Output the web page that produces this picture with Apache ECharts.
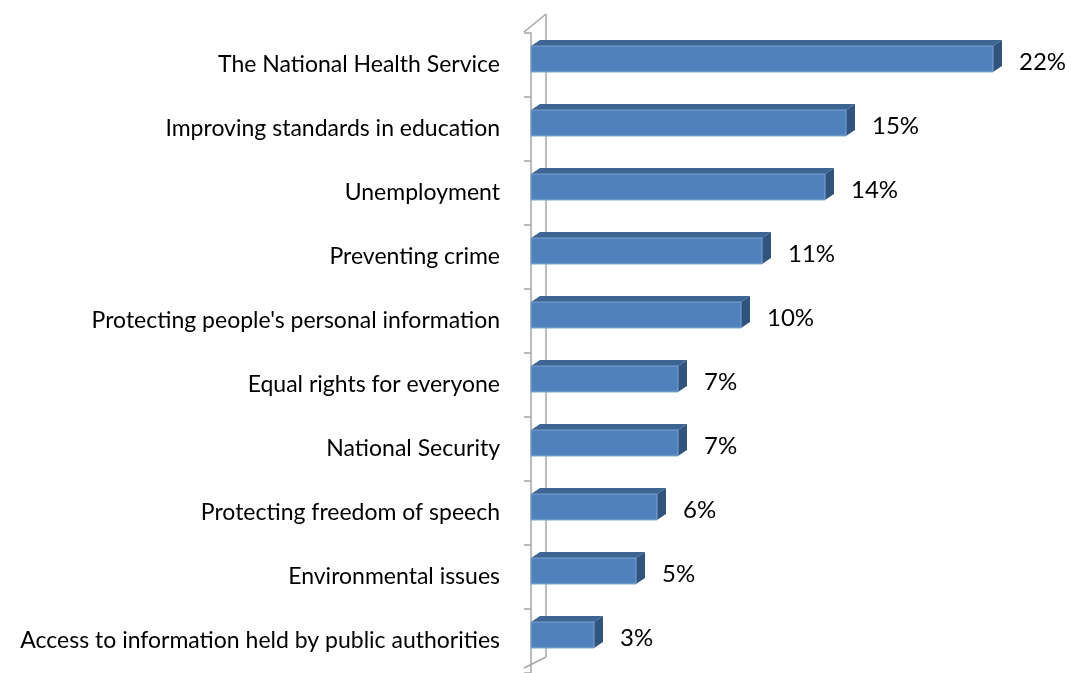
<!DOCTYPE html>
<html>
<head>
<meta charset="utf-8">
<script src="https://cdn.jsdelivr.net/npm/echarts@6/dist/echarts.min.js"></script>
<style>
  html, body { margin: 0; padding: 0; background: #fff; }
  #chart { width: 1071px; height: 673px; }
</style>
</head>
<body>
<div id="chart"></div>
<script>
// Issues ranked by share of respondents (%)
const categories = [
  'The National Health Service',
  'Improving standards in education',
  'Unemployment',
  'Preventing crime',
  "Protecting people's personal information",
  'Equal rights for everyone',
  'National Security',
  'Protecting freedom of speech',
  'Environmental issues',
  'Access to information held by public authorities'
];
const shares = [22, 15, 14, 11, 10, 7, 7, 6, 5, 3];

const FONT = 'Lato, "Open Sans", sans-serif';
const DEPTH_X = 9, DEPTH_Y = 6, LIFT = 6;
const FRONT = '#4F81BD', TOP = '#3C6594', SIDE = '#31547F';

const chart = echarts.init(document.getElementById('chart'), null, { renderer: 'canvas' });

function renderBar(params, api) {
  const v = api.value(0);
  const cat = api.value(1);
  const p0 = api.coord([0, cat]);
  const p1 = api.coord([v, cat]);
  const h = api.size([0, 1])[1] * 0.405;
  const cy = p0[1] - LIFT;
  const x0 = p0[0], x1 = p1[0];
  const yt = cy - h / 2, yb = cy + h / 2;
  return {
    type: 'group',
    children: [
      { type: 'polygon', shape: { points: [[x0, yt], [x0 + DEPTH_X, yt - DEPTH_Y], [x1 + DEPTH_X, yt - DEPTH_Y], [x1, yt]] },
        style: { fill: TOP } },
      { type: 'polygon', shape: { points: [[x1, yt], [x1 + DEPTH_X, yt - DEPTH_Y], [x1 + DEPTH_X, yb - DEPTH_Y], [x1, yb]] },
        style: { fill: SIDE } },
      { type: 'rect', shape: { x: x0, y: yt, width: x1 - x0, height: yb - yt },
        style: { fill: new echarts.graphic.LinearGradient(0, 0, 0, 1, [
          { offset: 0, color: FRONT }, { offset: 0.9, color: FRONT }, { offset: 1, color: '#5B8BC4' }]),
          stroke: '#7FA3D0', lineWidth: 0.6 } },
      { type: 'text', style: { text: v + '%', x: x1 + DEPTH_X + 17, y: cy + 3,
          fill: '#000', font: '24px ' + FONT, textAlign: 'left', textVerticalAlign: 'middle' } }
    ]
  };
}

chart.setOption({
  animation: false,
  grid: { left: 531, top: 33, width: 525, height: 644, containLabel: false },
  xAxis: { type: 'value', min: 0, max: 25, show: false },
  yAxis: {
    type: 'category',
    data: categories,
    inverse: true,
    offset: 7,
    axisLine: { show: true, lineStyle: { color: '#A6A6A6', width: 1.5 } },
    axisTick: { show: true, length: 7, lineStyle: { color: '#A6A6A6', width: 1.5 } },
    axisLabel: { margin: 24, color: '#000', fontFamily: FONT, fontSize: 23, padding: [4, 0, 0, 0] },
    splitLine: { show: false }
  },
  series: [{
    type: 'custom',
    renderItem: renderBar,
    encode: { x: 0, y: 1 },
    data: shares.map((v, i) => [v, i]),
    clip: false
  }]
});

// Back wall edge and the floor/ceiling diagonals of the 3D plot area
const g = chart.getModel().getComponent('grid').coordinateSystem.getRect();
const fx = g.x - 7, bx = fx + 22;
const yTop = g.y - 1, yBot = g.y + g.height;
const wall = { stroke: '#A6A6A6', lineWidth: 1.5 };
chart.setOption({
  graphic: [
    { type: 'line', z: -1, shape: { x1: bx, y1: yTop - 18, x2: bx, y2: yBot - 16 }, style: wall },
    { type: 'line', z: -1, shape: { x1: fx, y1: yTop, x2: bx, y2: yTop - 18 }, style: wall },
    { type: 'line', z: -1, shape: { x1: fx, y1: yBot - 5, x2: bx, y2: yBot - 16 }, style: wall }
  ]
});
</script>
</body>
</html>
